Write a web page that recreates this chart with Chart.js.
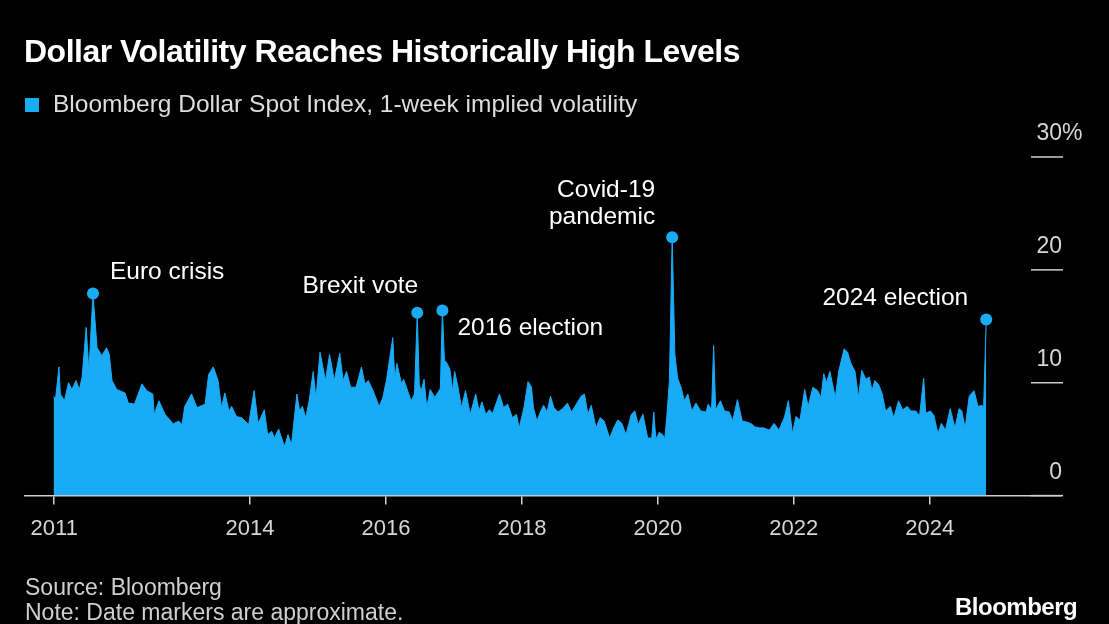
<!DOCTYPE html>
<html>
<head>
<meta charset="utf-8">
<script src="https://cdn.jsdelivr.net/npm/chart.js@4.4.1/dist/chart.umd.min.js"></script>
<style>
  html,body{margin:0;padding:0;background:#000;}
  #wrap{position:relative;width:1109px;height:624px;background:#000;overflow:hidden;font-family:"Liberation Sans",Arial,sans-serif;}
  canvas{position:absolute;left:0;top:0;}
  .t{position:absolute;white-space:nowrap;}
  #title{left:24px;top:33px;font-size:32px;font-weight:bold;color:#fff;letter-spacing:-0.5px;}
  #legend{left:25px;top:90px;font-size:24.5px;color:#dedede;}
  #legend span.sw{display:inline-block;width:14px;height:14px;background:#1aabf7;margin-right:14px;vertical-align:0px;}
  #src{left:25px;top:574px;font-size:23px;color:#cfcfcf;}
  #note{left:25px;top:599px;font-size:23px;color:#cfcfcf;}
  #logo{left:955px;top:593px;font-size:24px;font-weight:bold;color:#fff;letter-spacing:-0.5px;}
</style>
</head>
<body>
<div id="wrap">
  <canvas id="c" width="1109" height="624"></canvas>
  <div class="t" id="title">Dollar Volatility Reaches Historically High Levels</div>
  <div class="t" id="legend"><span class="sw"></span>Bloomberg Dollar Spot Index, 1-week implied volatility</div>
  <div class="t" id="src">Source: Bloomberg</div>
  <div class="t" id="note">Note: Date markers are approximate.</div>
  <div class="t" id="logo">Bloomberg</div>
</div>
<script>
// ---- data (decimal year, implied volatility %) ----
const years = [
2011.11,2011.14,2011.19,2011.21,2011.27,2011.33,2011.38,2011.44,2011.49,2011.53,2011.59,2011.63,2011.69,2011.75,2011.82,2011.89,2011.93,2011.97,
2012.04,2012.16,2012.21,2012.30,2012.41,2012.48,2012.57,2012.59,2012.66,2012.75,2012.87,2012.95,
2013.00,2013.04,2013.14,2013.22,2013.34,2013.39,2013.46,2013.53,2013.58,2013.63,2013.69,2013.73,2013.80,2013.88,2013.98,
2014.06,2014.12,2014.21,2014.26,2014.32,2014.36,2014.42,2014.49,2014.51,2014.56,2014.61,2014.69,2014.73,2014.77,2014.82,2014.87,2014.93,2014.97,
2015.03,2015.11,2015.17,2015.24,2015.32,2015.37,2015.42,2015.48,2015.56,2015.64,2015.69,2015.74,2015.81,2015.90,2015.95,
2016.01,2016.10,2016.13,2016.16,2016.23,2016.26,2016.37,2016.42,2016.46,2016.49,2016.52,2016.56,2016.60,2016.65,2016.72,2016.78,2016.80,2016.83,2016.86,2016.89,2016.94,2016.98,
2017.01,2017.06,2017.11,2017.17,2017.24,2017.32,2017.37,2017.41,2017.47,2017.52,2017.57,2017.67,2017.73,2017.79,2017.86,2017.92,2017.96,
2018.03,2018.09,2018.14,2018.17,2018.22,2018.27,2018.32,2018.37,2018.42,2018.47,2018.53,2018.60,2018.67,2018.73,2018.80,2018.87,2018.92,2018.97,
2019.02,2019.09,2019.15,2019.21,2019.29,2019.35,2019.41,2019.47,2019.53,2019.61,2019.66,2019.71,2019.78,2019.85,2019.91,2019.94,2019.97,
2020.02,2020.07,2020.10,2020.13,2020.17,2020.21,2020.25,2020.29,2020.34,2020.39,2020.44,2020.50,2020.56,2020.63,2020.71,2020.74,2020.79,2020.82,2020.85,2020.92,2020.98,
2021.05,2021.10,2021.17,2021.24,2021.32,2021.39,2021.42,2021.49,2021.56,2021.64,2021.71,2021.78,2021.86,2021.92,2021.98,
2022.03,2022.09,2022.16,2022.21,2022.28,2022.35,2022.40,2022.44,2022.48,2022.53,2022.61,2022.66,2022.74,2022.79,2022.84,2022.90,2022.95,
2023.00,2023.06,2023.11,2023.15,2023.19,2023.25,2023.30,2023.35,2023.42,2023.47,2023.54,2023.60,2023.67,2023.72,2023.79,2023.85,2023.91,2023.94,
2024.01,2024.06,2024.12,2024.17,2024.23,2024.30,2024.37,2024.43,2024.47,2024.52,2024.58,2024.65,2024.71,2024.77,2024.79,2024.83
];
const volatility = [
8.8,8.6,11.4,9.0,8.4,10.0,9.4,10.2,9.4,10.5,14.9,11.0,17.9,13.1,12.4,13.1,12.5,10.2,
9.4,9.1,8.2,8.1,9.9,9.3,9.0,7.2,8.4,7.2,6.35,6.6,
6.3,7.9,9.0,7.8,8.1,10.7,11.4,10.2,7.8,9.1,7.5,7.9,7.0,6.9,6.3,
9.3,6.4,7.6,5.4,5.7,5.1,5.9,4.65,4.4,5.4,4.5,9.0,7.5,7.9,6.9,8.4,11.0,8.6,
12.7,10.2,12.5,10.2,12.6,10.2,11.0,9.6,9.6,11.4,9.9,10.2,9.3,7.9,8.6,
10.3,14.0,10.3,11.7,9.9,10.3,8.4,9.0,16.2,9.8,9.3,10.3,7.8,9.4,8.7,9.3,9.5,16.4,12.0,11.8,11.2,9.3,
11.0,9.6,7.8,9.3,7.2,9.0,7.5,8.3,7.2,7.6,7.3,9.0,7.8,8.1,6.9,7.2,6.0,
7.8,10.1,9.6,7.8,6.6,7.4,8.0,7.4,8.8,7.8,7.4,7.7,8.2,7.4,8.1,8.8,9.0,7.2,
8.0,6.0,6.9,6.6,5.1,6.0,6.7,6.4,5.4,7.2,7.5,6.3,7.2,5.1,5.1,7.4,5.0,
5.6,5.4,5.0,6.9,10.2,22.9,12.5,10.4,9.6,8.4,9.0,7.5,8.2,7.5,7.4,8.1,7.6,13.3,7.6,8.4,7.5,
7.4,6.6,8.5,6.6,6.5,6.3,6.1,6.0,6.0,5.8,6.4,5.8,6.9,8.4,5.5,
7.0,6.7,9.4,7.9,9.6,9.3,8.7,10.8,10.0,11.0,8.7,11.0,13.0,12.7,11.7,11.0,8.7,
11.1,10.3,10.5,9.3,10.2,9.8,9.0,7.5,7.9,6.9,8.4,7.6,7.9,7.5,7.5,7.1,10.4,7.3,
7.5,7.1,5.5,6.4,5.8,7.7,6.0,7.7,7.5,6.0,8.8,9.3,7.9,8.0,7.5,15.6
];
// event markers
const eventLabels = [["Euro crisis"],["Brexit vote"],["2016 election"],["Covid-19","pandemic"],["2024 election"]];
const eventYears = [2011.69, 2016.46, 2016.83, 2020.21, 2024.83];
const eventValues = [17.9, 16.2, 16.4, 22.9, 15.6];
// axis ticks
const xTickValues = [2011.12, 2014, 2016, 2018, 2020, 2022, 2024];
const xTickLabels = ["2011","2014","2016","2018","2020","2022","2024"];
const yTickValues = [0, 10, 20, 30];
const yTickLabels = ["0","10","20","30"];

const BLUE = '#1aabf7';
const FONT = '"Liberation Sans", Arial, sans-serif';

const seriesData = years.map((x, i) => ({x, y: volatility[i]}));
const eventData = eventYears.map((x, i) => ({x, y: eventValues[i]}));

// label placement relative to the marker (dx, dy, align)
const labelPlacement = [
  {dx: 17, dy: -21, align: 'left'},
  {dx: 1, dy: -27, align: 'right'},
  {dx: 15, dy: 18, align: 'left'},
  {dx: -17, dy: -20, align: 'right'},
  {dx: -18, dy: -21, align: 'right'}
];

const overlay = {
  id: 'overlay',
  afterDatasetsDraw(chart) {
    const ctx = chart.ctx, xs = chart.scales.x, ys = chart.scales.y;
    ctx.save();
    // y axis: short tick lines and labels on the right
    ctx.strokeStyle = '#cfcfcf';
    ctx.lineWidth = 1.5;
    ctx.fillStyle = '#d6d6d6';
    ctx.font = '23px ' + FONT;
    ctx.textBaseline = 'middle';
    yTickValues.forEach((v, i) => {
      const py = ys.getPixelForValue(v);
      ctx.beginPath();
      ctx.moveTo(1031, py);
      ctx.lineTo(1063, py);
      ctx.stroke();
      ctx.textAlign = 'right';
      ctx.fillText(yTickLabels[i], 1062, py - 23);
      if (i === yTickValues.length - 1) {
        ctx.textAlign = 'left';
        ctx.fillText('%', 1062, py - 23);
      }
    });
    // annotations
    ctx.fillStyle = '#ffffff';
    ctx.font = '24.5px ' + FONT;
    eventLabels.forEach((lines, i) => {
      const px = xs.getPixelForValue(eventYears[i]);
      const py = ys.getPixelForValue(eventValues[i]);
      const p = labelPlacement[i];
      ctx.textAlign = p.align;
      lines.forEach((t, j) => {
        const off = (lines.length - 1 - j) * 27;
        ctx.fillText(t, px + p.dx, py + p.dy - off);
      });
    });
    ctx.restore();
  }
};

new Chart(document.getElementById('c'), {
  type: 'line',
  data: {
    datasets: [
      {
        data: seriesData,
        borderColor: BLUE,
        backgroundColor: BLUE,
        borderWidth: 1,
        fill: 'origin',
        pointRadius: 0,
        tension: 0,
        order: 2
      },
      {
        data: eventData,
        showLine: false,
        pointRadius: 6,
        pointBackgroundColor: BLUE,
        pointBorderWidth: 0,
        borderColor: BLUE,
        fill: false,
        order: 1
      }
    ]
  },
  options: {
    responsive: false,
    animation: false,
    layout: {padding: {left: 25, right: 48, top: 157, bottom: 71}},
    plugins: {legend: {display: false}, tooltip: {enabled: false}},
    scales: {
      x: {
        type: 'linear',
        min: 2010.69,
        max: 2025.93,
        afterBuildTicks: (s) => { s.ticks = xTickValues.map(v => ({value: v})); },
        ticks: {
          autoSkip: false,
          maxRotation: 0,
          padding: 11,
          color: '#d6d6d6',
          font: {family: FONT, size: 22},
          callback: (v) => { const i = xTickValues.indexOf(v); return i >= 0 ? xTickLabels[i] : ''; }
        },
        grid: {display: true, drawOnChartArea: false, drawTicks: true, tickLength: 9, color: '#cfcfcf', lineWidth: 1.5},
        border: {display: true, color: '#cfcfcf', width: 1.5}
      },
      y: {
        display: false,
        min: 0,
        max: 30
      }
    }
  },
  plugins: [overlay]
});
</script>
</body>
</html>
